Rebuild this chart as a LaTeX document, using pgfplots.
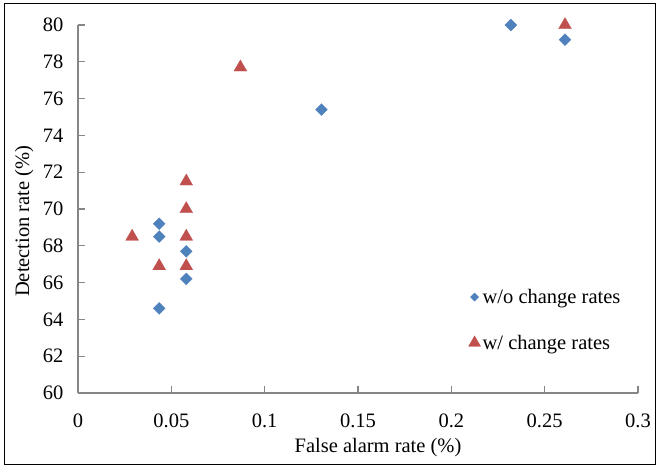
\documentclass[border=0pt]{standalone}
\usepackage{fontspec}
\setmainfont{Liberation Serif}
\usepackage{pgfplots}
\pgfplotsset{compat=1.18}
\definecolor{sblue}{HTML}{4F81BD}
\definecolor{sred}{HTML}{C0504D}
\definecolor{axgray}{HTML}{868686}
\begin{document}
\begin{tikzpicture}[x=1pt,y=1pt]
\path[use as bounding box] (0,0) rectangle (659,468);
\draw[line width=1.2pt] (4.5,3.5) rectangle (655.5,464.5);
\begin{axis}[
  at={(78pt,75pt)}, anchor=south west,
  scale only axis, width=560pt, height=368pt,
  xmin=0, xmax=0.3, ymin=60, ymax=80,
  xtick={0,0.05,0.1,0.15,0.2,0.25,0.3},
  xticklabels={0,0.05,0.1,0.15,0.2,0.25,0.3},
  ytick={60,62,64,66,68,70,72,74,76,78,80},
  yticklabels={60,62,64,66,68,70,72,74,76,78,80},
  axis lines=left,
  axis line style={-, draw=axgray, line width=1.2pt},
  tick style={draw=axgray, line width=1.2pt},
  tick align=inside, major tick length=7pt,
  font=\fontsize{20.5}{24}\selectfont,
  yticklabel style={xshift=-11pt},
  xticklabel style={yshift=-17pt},
  xlabel={False alarm rate (\%)},
  xlabel style={at={(axis description cs:0.5357,-0.163)}, anchor=base},
  ylabel={Detection rate (\%)},
  ylabel style={at={(axis description cs:-0.0875,0.467)}, anchor=base},
  clip=false,
  legend style={draw=none, fill=none, at={(axis description cs:0.697,0.288)}, anchor=north west,
    inner sep=0pt, row sep=26pt, nodes={inner sep=2pt}, font=\fontsize{20.5}{24}\selectfont},
  legend cell align=left,
]
\addplot[only marks, mark=square*, mark size=4.25pt, mark options={rotate=45, draw=sblue, fill=sblue, line width=0.2pt}, forget plot]
  coordinates {(0.0435,69.2) (0.0435,68.5) (0.0580,67.7) (0.0580,66.2) (0.0435,64.6) (0.1304,75.4) (0.2319,80.0) (0.2609,79.2)};
\addplot[only marks, mark=triangle*, mark size=7.5pt, mark options={draw=sred, fill=sred, line width=0.2pt}, forget plot]
  coordinates {(0.0870,77.7) (0.0580,71.5) (0.0580,70.0) (0.0580,68.5) (0.0290,68.5) (0.0435,66.9) (0.0580,66.9) (0.2609,80.0)};
\addlegendimage{only marks, mark=square*, mark size=2.95pt, mark options={rotate=45, draw=sblue, fill=sblue, line width=0.2pt}}
\addlegendentry{w/o change rates}
\addlegendimage{only marks, mark=triangle*, mark size=7pt, mark options={draw=sred, fill=sred, line width=0.2pt}}
\addlegendentry{w/ change rates}
\end{axis}
\end{tikzpicture}
\end{document}
